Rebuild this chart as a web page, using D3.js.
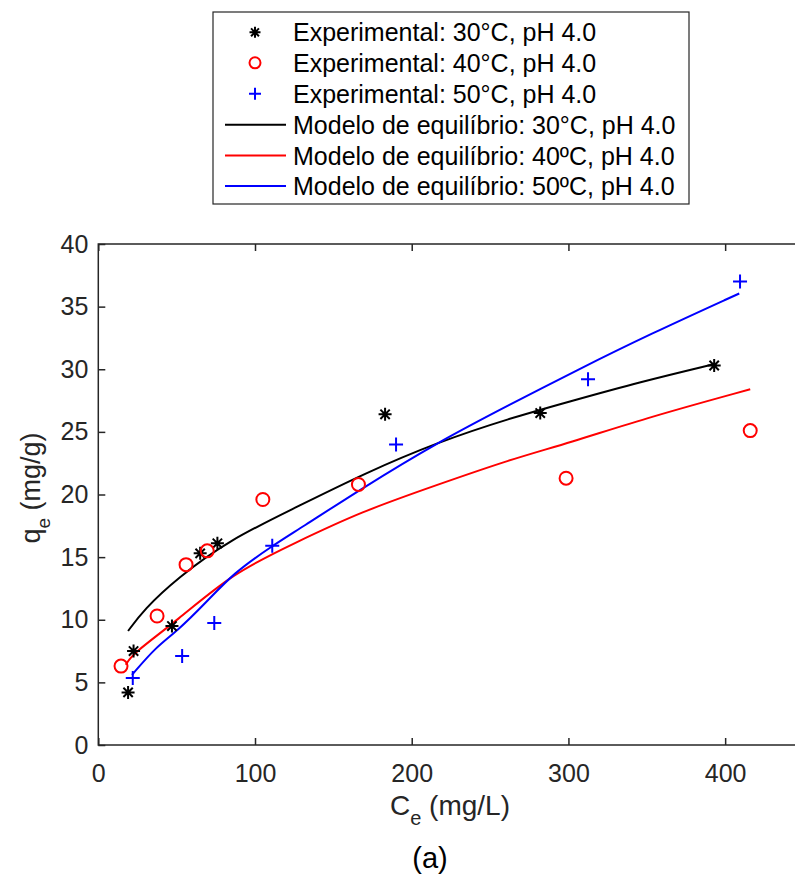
<!DOCTYPE html>
<html><head><meta charset="utf-8">
<script src="https://cdn.jsdelivr.net/npm/d3@7"></script>
<style>body{margin:0;background:#fff;}svg{display:block;font-family:"Liberation Sans",Arial,sans-serif;}</style>
</head><body><svg id="c" width="795" height="890"></svg>
<script>
// experimental data
const exp30 = [[19,4.2],[22.5,7.5],[47,9.5],[65,15.3],[76,16.1],[183,26.4],[282,26.5],[393,30.3]];
const exp40 = [[14.5,6.3],[37.5,10.3],[56,14.4],[69.5,15.5],[105,19.6],[166,20.8],[298.5,21.3],[416,25.1]];
const exp50 = [[22,5.35],[53.5,7.1],[74,9.75],[111,15.9],[190,24.0],[312.5,29.2],[409.5,37.0]];
// model curves
const model30 = [[19,9.1],[29,10.8],[50,13.3],[84,16.4],[125,18.9],[170,21.7],[217,24.2],[263,26.1],[300,27.4],[346,29.0],[392.5,30.4]];
const model40 = [[17.5,6.4],[22,7.3],[50,9.9],[86,13.75],[125,16.1],[167,18.6],[217,20.8],[263,22.8],[300,24.1],[352,26.2],[416,28.4]];
const model50 = [[21.5,5.6],[37,7.85],[50,9.05],[69,11.4],[86,13.7],[111,15.9],[129,17.3],[167,20.4],[217,24.2],[263,27.2],[305,29.9],[352,32.8],[409,36.05]];
const xTicks = [0,100,200,300,400];
const yTicks = [0,5,10,15,20,25,30,35,40];
const legendLabels = ["Experimental: 30°C, pH 4.0","Experimental: 40°C, pH 4.0","Experimental: 50°C, pH 4.0",
  "Modelo de equilíbrio: 30°C, pH 4.0","Modelo de equilíbrio: 40ºC, pH 4.0","Modelo de equilíbrio: 50ºC, pH 4.0"];

const svg = d3.select("#c");
const L = 98.3, R = 803.5, T = 244, B = 745;
const x = d3.scaleLinear().domain([0,450]).range([L,R]);
const y = d3.scaleLinear().domain([0,40]).range([B,T]);
const axisCol = "#262626";
const fs = 25;

// box
svg.append("rect").attr("x",L).attr("y",T).attr("width",R-L).attr("height",B-T)
  .attr("fill","none").attr("stroke",axisCol).attr("stroke-width",1.5);

// axes
const xa = svg.append("g").attr("transform",`translate(0,${B})`)
  .call(d3.axisBottom(x).tickValues(xTicks).tickSize(-7).tickPadding(19).tickFormat(d3.format("d")));
const xt = svg.append("g").attr("transform",`translate(0,${T})`)
  .call(d3.axisTop(x).tickValues(xTicks).tickSize(-7).tickFormat(""));
const ya = svg.append("g").attr("transform",`translate(${L},0)`)
  .call(d3.axisLeft(y).tickValues(yTicks).tickSize(-7).tickPadding(10).tickFormat(d3.format("d")));
[xa,xt,ya].forEach(g=>{
  g.select(".domain").remove();
  g.selectAll(".tick line").attr("stroke",axisCol).attr("stroke-width",1.5);
  g.selectAll("text").attr("fill",axisCol).attr("font-size",fs).attr("font-family","Liberation Sans, Arial, sans-serif");
});
xa.selectAll("text").attr("dy","0.71em");

// titles
const xl = svg.append("text").attr("x",450).attr("y",815).attr("text-anchor","middle")
  .attr("font-size",28).attr("fill",axisCol);
xl.append("tspan").text("C");
xl.append("tspan").attr("font-size",20).attr("dy",10).text("e");
xl.append("tspan").attr("dy",-10).text(" (mg/L)");
const yl = svg.append("text").attr("transform","translate(40,488) rotate(-90)").attr("text-anchor","middle")
  .attr("font-size",27).attr("fill",axisCol);
yl.append("tspan").text("q");
yl.append("tspan").attr("font-size",19).attr("dy",10).text("e");
yl.append("tspan").attr("dy",-10).text(" (mg/g)");
svg.append("text").attr("x",430).attr("y",868).attr("text-anchor","middle").attr("font-size",29).attr("fill","#000").text("(a)");

// curves
const line = d3.line().x(d=>x(d[0])).y(d=>y(d[1])).curve(d3.curveBasis);
[[model30,"#000"],[model40,"#ff0000"],[model50,"#0000ff"]].forEach(([d,c])=>{
  svg.append("path").attr("d",line(d)).attr("fill","none").attr("stroke",c).attr("stroke-width",2);
});

// markers
function star(g,cx,cy,s,col){
  const a=s/2, b=s/2*0.72;
  g.append("path").attr("d",`M${cx-a},${cy}H${cx+a}M${cx},${cy-a}V${cy+a}M${cx-b},${cy-b}L${cx+b},${cy+b}M${cx-b},${cy+b}L${cx+b},${cy-b}`)
   .attr("stroke",col).attr("stroke-width",2).attr("fill","none");
}
function plus(g,cx,cy,s,col){
  const a=s/2;
  g.append("path").attr("d",`M${cx-a},${cy}H${cx+a}M${cx},${cy-a}V${cy+a}`)
   .attr("stroke",col).attr("stroke-width",2).attr("fill","none");
}
function circ(g,cx,cy,r,col){
  g.append("circle").attr("cx",cx).attr("cy",cy).attr("r",r).attr("stroke",col).attr("stroke-width",2).attr("fill","none");
}
const mg = svg.append("g");
exp30.forEach(d=>star(mg,x(d[0]),y(d[1]),13,"#000"));
exp40.forEach(d=>circ(mg,x(d[0]),y(d[1]),6.5,"#ff0000"));
exp50.forEach(d=>plus(mg,x(d[0]),y(d[1]),14,"#0000ff"));

// legend
const lg = svg.append("g");
lg.append("rect").attr("x",213).attr("y",12).attr("width",476).attr("height",192)
  .attr("fill","#fff").attr("stroke",axisCol).attr("stroke-width",1.2);
const rowY = [32.3,62.8,93.8,124.8,155.5,186];
const cols = ["#000","#ff0000","#0000ff","#000","#ff0000","#0000ff"];
legendLabels.forEach((t,i)=>{
  const yy=rowY[i];
  if(i===0) star(lg,255,yy,11,cols[i]);
  else if(i===1) circ(lg,255,yy,5.5,cols[i]);
  else if(i===2) plus(lg,255,yy,12,cols[i]);
  else lg.append("line").attr("x1",225).attr("x2",286).attr("y1",yy).attr("y2",yy).attr("stroke",cols[i]).attr("stroke-width",2);
  lg.append("text").attr("x",293).attr("y",yy).attr("dy","0.36em").attr("font-size",25).attr("fill","#000").text(t);
});
</script></body></html>
